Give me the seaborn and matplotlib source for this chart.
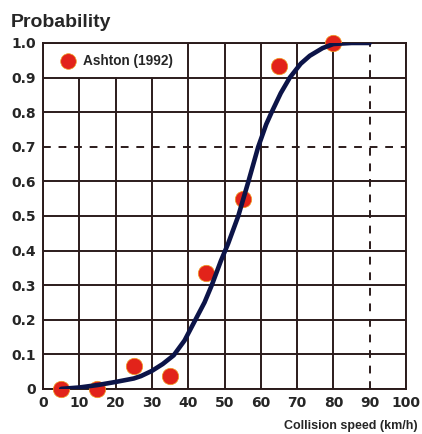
import numpy as np
import pandas as pd
import matplotlib
matplotlib.use("Agg")
import matplotlib.pyplot as plt
import seaborn as sns

# observed points (Ashton 1992)
obs_speed = [5, 15, 25, 35, 45, 55, 65, 80]
obs_prob = [0.0, 0.0, 0.067, 0.036, 0.335, 0.548, 0.932, 1.0]

# fitted curve
curve_speed = [5, 10, 15, 20, 25, 27, 30, 33, 36, 39, 42, 44.5, 46.5, 49, 51,
               53.8, 56.6, 59.3, 61.5, 63, 65.5, 68, 71, 73.5, 77, 80, 85, 90]
curve_prob = [0.0, 0.004, 0.011, 0.02, 0.03, 0.037, 0.052, 0.072, 0.097, 0.14,
              0.2, 0.25, 0.3, 0.37, 0.42, 0.5, 0.6, 0.7, 0.765, 0.8, 0.855,
              0.9, 0.94, 0.963, 0.985, 0.997, 1.0, 1.0]

x_ticks = list(range(0, 101, 10))
y_ticks = [0, 0.1, 0.2, 0.3, 0.4, 0.5, 0.6, 0.7, 0.8, 0.9, 1.0]
y_labels = ["0", "0.1", "0.2", "0.3", "0.4", "0.5", "0.6", "0.7", "0.8", "0.9", "1.0"]

obs_df = pd.DataFrame({"speed": obs_speed, "prob": obs_prob})
curve_df = pd.DataFrame({"speed": curve_speed, "prob": curve_prob})

sns.set_style("white")
plt.rcParams['font.family'] = ['Liberation Sans', 'DejaVu Sans']

fig = plt.figure(figsize=(4.22, 4.34), dpi=100)
ax = fig.add_axes([0.102, 0.104, 0.860, 0.797])

grid_col = "#2b1b1b"
for xv in x_ticks:
    if xv == 90:
        ax.axvline(xv, color=grid_col, lw=1.4, ls=(0, (4, 4)), zorder=1)
    elif 0 < xv < 40:
        # legend box covers the top-left cells
        ax.axvline(xv, ymax=0.9, color=grid_col, lw=1.4, zorder=1)
    else:
        ax.axvline(xv, color=grid_col, lw=1.4, zorder=1)
for yv in y_ticks:
    if abs(yv - 0.7) < 1e-9:
        ax.axhline(yv, color=grid_col, lw=1.4, ls=(0, (4, 4)), zorder=1)
    else:
        ax.axhline(yv, color=grid_col, lw=1.4, zorder=1)

sns.scatterplot(data=obs_df, x="speed", y="prob", ax=ax, color="#e2231a",
                s=140, edgecolor="#f0a020", linewidth=0.5, zorder=3,
                label="Ashton (1992)", clip_on=False)
sns.lineplot(data=curve_df, x="speed", y="prob", ax=ax, color="#0c1448",
             lw=3.3, zorder=4, legend=False)

ax.set_xlim(0, 100)
ax.set_ylim(0, 1.0)
ax.set_xticks(x_ticks)
ax.set_yticks(y_ticks)
ax.set_yticklabels(y_labels)
ax.tick_params(axis="both", length=0, labelsize=10, pad=5)
for lab in ax.get_xticklabels() + ax.get_yticklabels():
    lab.set_fontweight("bold")
    lab.set_family("DejaVu Sans")
ax.set_xlabel("")
ax.set_ylabel("")
for sp in ax.spines.values():
    sp.set_color(grid_col)
    sp.set_linewidth(1.4)

leg = ax.legend(loc="upper left", frameon=False, handletextpad=0.1,
                borderaxespad=0.4, borderpad=0.4,
                prop={"weight": "bold", "size": 9.8}, markerscale=0.95)

fig.text(0.026, 0.948, "Probability", fontsize=14, fontweight="bold",
         ha="left", va="center")
fig.text(0.99, 0.018, "Collision speed (km/h)", fontsize=9, fontweight="bold",
         ha="right", va="center")

fig.savefig("out.png", dpi=100)
